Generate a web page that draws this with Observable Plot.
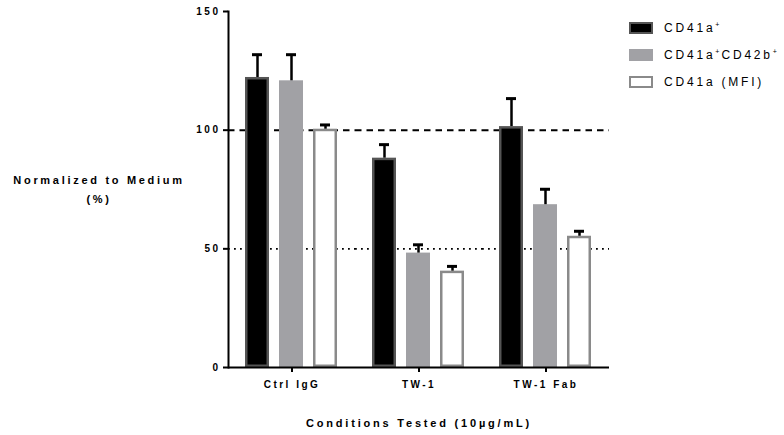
<!DOCTYPE html>
<html>
<head>
<meta charset="utf-8">
<script src="https://cdn.jsdelivr.net/npm/d3@7"></script>
<script src="https://cdn.jsdelivr.net/npm/@observablehq/plot@0.6"></script>
<style>
  body { margin: 0; background: #fff; font-family: "Liberation Sans", Arial, sans-serif; color: #000; }
  #chart { position: relative; width: 784px; height: 435px; }
  #chart svg { position: absolute; left: 0; top: 0; }
  #chart svg text { letter-spacing: 2.5px; }
  #chart g[aria-label="fx-axis label"] text { font-size: 11px; letter-spacing: 2.8px; }
  .ytitle { position: absolute; left: 0; width: 198px; top: 171px; text-align: center;
            font-weight: bold; font-size: 11px; letter-spacing: 2.7px; line-height: 19px; }
  .legend { position: absolute; left: 629px; top: 14px; }
  .legend .row { display: flex; align-items: center; height: 27px; font-size: 12px; letter-spacing: 2.8px; }
  .legend .sw { width: 24px; height: 12px; box-sizing: border-box; margin-right: 11px; }
  .legend sup { font-size: 7px; letter-spacing: 0; vertical-align: 5px; line-height: 0; margin-right: 2px; }
</style>
</head>
<body>
<div id="chart">
  <div class="ytitle">Normalized to Medium<br>(%)</div>
  <div class="legend" id="legend"></div>
</div>
<script>
// Conditions on the x axis and the three measured populations
const conditions = ["Ctrl IgG", "TW-1", "TW-1 Fab"];
const series = ["CD41a+", "CD41a+CD42b+", "CD41a (MFI)"];
const legendLabels = ["CD41a<sup>+</sup>", "CD41a<sup>+</sup>CD42b<sup>+</sup>", "CD41a (MFI)"];

// Means (% of medium) per condition, one array per population
const meanCD41a = [122.2, 88.2, 101.5];
const meanCD41aCD42b = [120.8, 48.2, 68.6];
const meanMFI = [100.4, 40.6, 55.3];

// Upper error (SEM) per condition
const semCD41a = [9.6, 5.7, 11.8];
const semCD41aCD42b = [11.0, 3.5, 6.5];
const semMFI = [1.8, 2.0, 2.1];

const yTicks = [0, 50, 100, 150];
const refLines = { medium: 100, half: 50 };

// Bar styling per population
const fills = { "CD41a+": "#000000", "CD41a+CD42b+": "#a1a1a5", "CD41a (MFI)": "#ffffff" };
const strokes = { "CD41a+": "#555555", "CD41a+CD42b+": "#a1a1a5", "CD41a (MFI)": "#8a8a8a" };

const means = [meanCD41a, meanCD41aCD42b, meanMFI];
const sems = [semCD41a, semCD41aCD42b, semMFI];
const rows = [];
conditions.forEach((c, i) => {
  series.forEach((s, j) => {
    rows.push({ condition: c, series: s, mean: means[j][i], sem: sems[j][i] });
  });
});

const chart = Plot.plot({
  width: 784,
  height: 435,
  marginLeft: 227,
  marginRight: 174,
  marginTop: 11,
  marginBottom: 68,
  style: { fontFamily: "'Liberation Sans', Arial, sans-serif", fontSize: "10px", fontWeight: "bold", color: "#000", background: "transparent" },
  fx: { domain: conditions, padding: 0 },
  x: { domain: series, paddingInner: 0.2857, paddingOuter: 0.467, axis: null },
  y: { domain: [0, 150] },
  color: { type: "identity" },
  marks: [
    Plot.ruleY([refLines.medium], { stroke: "#000", strokeWidth: 2, strokeDasharray: "6.5,5" }),
    Plot.ruleY([refLines.half], { stroke: "#000", strokeWidth: 1.6, strokeDasharray: "1.8,4.2" }),
    Plot.barY(rows, {
      fx: "condition", x: "series", y: "mean",
      fill: d => fills[d.series], stroke: d => strokes[d.series],
      strokeWidth: 2.5, inset: 1.25
    }),
    Plot.ruleX(rows, {
      fx: "condition", x: "series", y1: "mean", y2: d => d.mean + d.sem,
      stroke: "#000", strokeWidth: 2.5
    }),
    Plot.tickY(rows, {
      fx: "condition", x: "series", y: d => d.mean + d.sem,
      stroke: "#000", strokeWidth: 3, insetLeft: 7, insetRight: 7
    }),
    Plot.ruleY([0], { stroke: "#000", strokeWidth: 2 }),
    Plot.frame({ anchor: "left", facetAnchor: "left", stroke: "#000", strokeWidth: 2 }),
    Plot.axisY({ ticks: yTicks, tickSize: 5, tickPadding: 3, strokeWidth: 2, label: null }),
    Plot.axisFx({
      anchor: "bottom", tickSize: 5, tickPadding: 8, strokeWidth: 2,
      label: "Conditions Tested (10µg/mL)", labelAnchor: "center", labelArrow: false, labelOffset: 59
    })
  ]
});

document.getElementById("chart").prepend(chart);

// Legend
const legend = d3.select("#legend");
series.forEach((s, j) => {
  const row = legend.append("div").attr("class", "row");
  row.append("div").attr("class", "sw")
    .style("background", fills[s])
    .style("border", `2.5px solid ${strokes[s]}`);
  row.append("div").html(legendLabels[j]);
});
</script>
</body>
</html>
